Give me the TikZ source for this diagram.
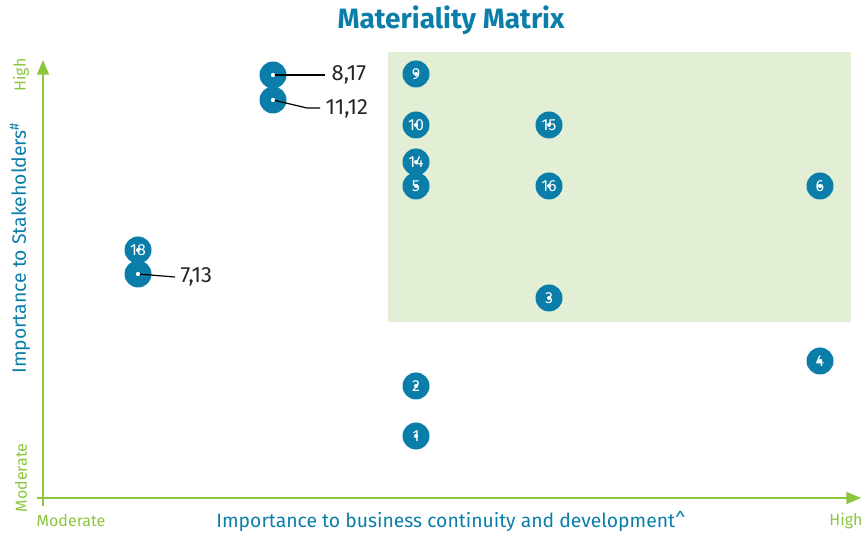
\documentclass[tikz,border=0pt]{standalone}
\usepackage{fontspec}
\setmainfont{Fira Sans}
\usetikzlibrary{arrows.meta}
\definecolor{teal}{HTML}{0A7EA8}
\definecolor{axisgreen}{HTML}{8CC63F}
\definecolor{zonegreen}{HTML}{E2EFD5}
\tikzset{
  pt/.style={circle,fill=teal,minimum size=27*0.75pt,inner sep=0pt,text=white,font=\fontsize{12}{12}\selectfont},
  dotm/.style={circle,fill=white,minimum size=4*0.75pt,inner sep=0pt},
  lead/.style={draw=black,line width=0.9pt},
  lbl/.style={anchor=west,font=\fontsize{16.5}{16.5}\selectfont,text=black!85},
  axis/.style={draw=axisgreen,line width=1.3pt},
  axlbl/.style={text=axisgreen,font=\fontsize{12}{12}\selectfont},
  axtitle/.style={text=teal,font=\fontsize{14.5}{14.5}\selectfont}
}
\newcommand{\mpt}[3]{\node[pt] (#1) at (#2) {#3}; \node[dotm] at (#1.center) {};}
\begin{document}
\begin{tikzpicture}[x=0.75pt,y=-0.75pt]
\useasboundingbox (0,0) rectangle (865,534);
\fill[zonegreen] (388,52) rectangle (851,322);
% axes
\coordinate (yb) at (43,506);
\coordinate (yt) at (43,60);
\coordinate (xl) at (37,498);
\coordinate (xr) at (861,498);
\draw[axis,-{Triangle[length=11pt,width=9pt]}] (yb) -- (yt);
\draw[axis,-{Triangle[length=11pt,width=9pt]}] (xl) -- (xr);
% title
\node[text=teal,font=\fontsize{21}{21}\selectfont\bfseries] (title) at (451,20) {Materiality Matrix};
% axis labels
\node[axlbl,rotate=90] (yhigh) at (21,75) {High};
\node[axlbl,rotate=90] (ymod) at (21,478) {Moderate};
\node[axtitle,rotate=90] (ytitle) at (20,248) {Importance to Stakeholders\textsuperscript{\#}};
\node[axlbl] (xmod) at (71,521) {Moderate};
\node[axtitle] (xtitle) at (451,521) {Importance to business continuity and development\^{}};
\node[axlbl] (xhigh) at (846,521) {High};
% points
\mpt{p817}{273,75}{}
\mpt{p1112}{273,100}{}
\mpt{p18}{138,250}{18}
\mpt{p713}{138,274}{}
\mpt{p9}{416,74}{9}
\mpt{p10}{416,125}{10}
\mpt{p15}{549,125}{15}
\mpt{p14}{416,162}{14}
\mpt{p5}{416,186}{5}
\mpt{p16}{549,186}{16}
\mpt{p6}{820,186}{6}
\mpt{p3}{549,298}{3}
\mpt{p4}{820,361}{4}
\mpt{p2}{416,386}{2}
\mpt{p1}{416,436}{1}
% leaders
\coordinate (e817) at (325,75);
\coordinate (k1112) at (307,108);
\coordinate (e1112) at (320,108);
\coordinate (e713) at (175,277);
\draw[lead] (p817.center) -- (e817);
\draw[lead] (p1112.center) -- (k1112) -- (e1112);
\draw[lead] (p713.center) -- (e713);
\node[dotm] at (p817.center) {};
\node[dotm] at (p1112.center) {};
\node[dotm] at (p713.center) {};
\node[lbl] (l817) at (327,75) {8,17};
\node[lbl] (l1112) at (321,109) {11,12};
\node[lbl] (l713) at (176,277) {7,13};
\end{tikzpicture}
\end{document}
